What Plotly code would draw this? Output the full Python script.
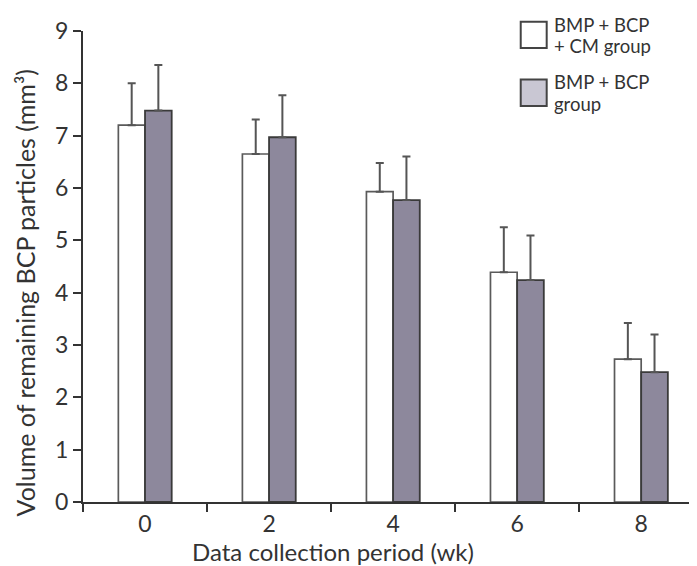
import plotly.graph_objects as go

categories = ["0", "2", "4", "6", "8"]
cm_group = [7.2, 6.65, 5.93, 4.39, 2.73]
cm_group_err = [0.8, 0.66, 0.55, 0.86, 0.69]
bmp_group = [7.48, 6.97, 5.77, 4.24, 2.48]
bmp_group_err = [0.87, 0.8, 0.83, 0.85, 0.72]
y_ticks = [0, 1, 2, 3, 4, 5, 6, 7, 8, 9]
legend_lines = [["BMP + BCP", "+ CM group"], ["BMP + BCP", "group"]]
x_title = "Data collection period (wk)"
y_title = "Volume of remaining BCP particles (mm³)"

FONT = "Lato"
AX = "#333333"

fig = go.Figure()
fig.add_trace(go.Bar(
    x=categories, y=cm_group, name="BMP + BCP + CM group",
    marker=dict(color="white", line=dict(color="#5a5a5a", width=1.7)),
    error_y=dict(type="data", array=cm_group_err, symmetric=False,
                 arrayminus=[0] * len(cm_group), color="#555555", thickness=2, width=4),
    showlegend=False,
))
fig.add_trace(go.Bar(
    x=categories, y=bmp_group, name="BMP + BCP group",
    marker=dict(color="#8d889c", line=dict(color="#3a3a3a", width=1.8)),
    error_y=dict(type="data", array=bmp_group_err, symmetric=False,
                 arrayminus=[0] * len(bmp_group), color="#555555", thickness=2, width=4),
    showlegend=False,
))

# custom legend (paper coordinates)
fills = ["white", "#c9c7d3"]
boxes = [(1.0195, 0.9637), (0.8971, 0.8410)]
text_y = [(1.0137, 0.9674), (0.8908, 0.8445)]
for lines, fc, (b1, b0), ty in zip(legend_lines, fills, boxes, text_y):
    fig.add_shape(type="rect", xref="paper", yref="paper",
                  x0=0.7129, x1=0.7552, y0=b0, y1=b1,
                  fillcolor=fc, line=dict(color="#444444", width=2))
    for line, yy in zip(lines, ty):
        fig.add_annotation(xref="paper", yref="paper", x=0.7655, y=yy,
                           xanchor="left", yanchor="middle", align="left", showarrow=False,
                           borderpad=0, text=line,
                           font=dict(family=FONT, size=18.5, color=AX))

fig.add_annotation(xref="paper", yref="paper", x=0.407, y=-0.105,
                   xanchor="center", yanchor="middle", showarrow=False,
                   text=x_title, font=dict(family=FONT, size=24, color=AX))
fig.add_annotation(xref="paper", yref="paper", x=-0.0945, y=0.445,
                   xanchor="center", yanchor="middle", showarrow=False, textangle=-90,
                   text=y_title, font=dict(family=FONT, size=25, color=AX))

fig.update_layout(
    width=697, height=566,
    margin=dict(l=75, r=8, t=18, b=72),
    paper_bgcolor="white", plot_bgcolor="white",
    barmode="group", bargap=0.57, bargroupgap=0,
    font=dict(family=FONT, color=AX),
)
fig.update_xaxes(
    type="category", range=[-0.5, 4.45], tickson="boundaries",
    ticks="outside", ticklen=8, tickwidth=2, tickcolor=AX,
    showline=True, linecolor=AX, linewidth=2, showgrid=False,
    tickfont=dict(family=FONT, size=23, color=AX),
)
fig.update_yaxes(
    range=[0, 9], tickvals=y_ticks, ticks="outside", ticklen=8, tickwidth=2, tickcolor=AX,
    showline=True, linecolor=AX, linewidth=2, showgrid=False, zeroline=False,
    tickfont=dict(family=FONT, size=23, color=AX),
)
fig.write_html("out.html")
